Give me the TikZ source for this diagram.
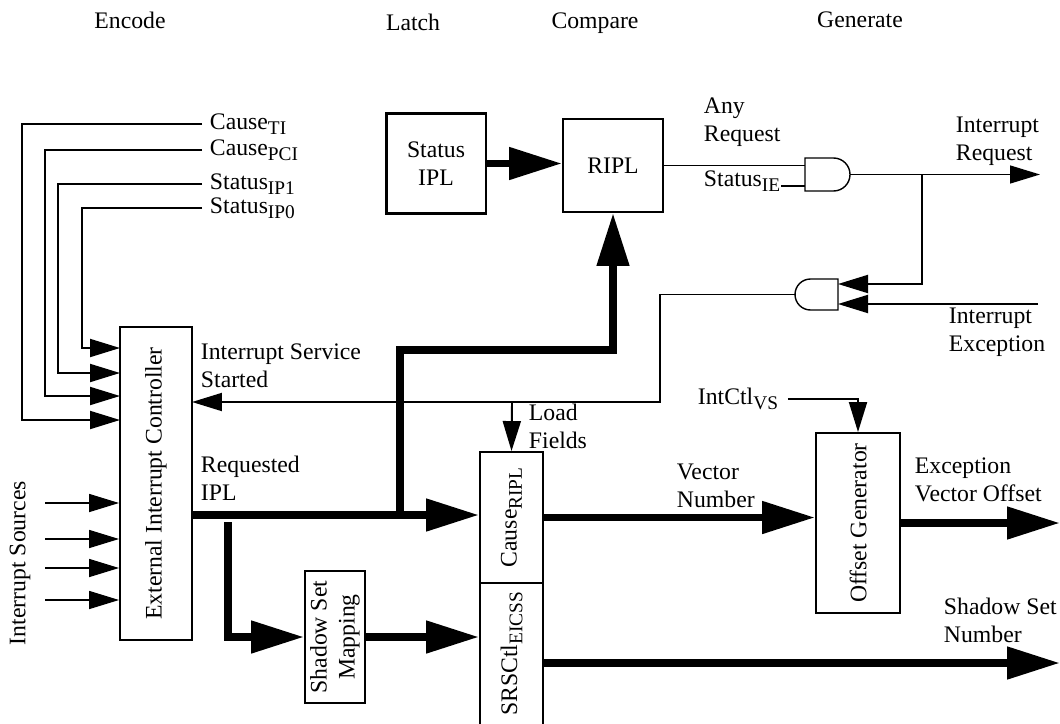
\documentclass[tikz,border=0pt]{standalone}
\usepackage{fontspec}
\setmainfont{Liberation Serif}
\usetikzlibrary{arrows.meta}

\begin{document}
\begin{tikzpicture}[x=0.02cm,y=-0.02cm,line width=1.1pt,>=Stealth,font=\fontsize{13.5}{16}\selectfont]
\tikzset{blk/.style={draw,inner sep=0pt,align=center},
  lbl/.style={inner sep=0pt,anchor=west,align=left},
  arr/.style={-{Triangle[length=0.6cm,width=0.36cm]}},
  bus/.style={line width=4.5pt,-{Triangle[length=1.06cm,width=0.62cm]}}}
\def\lo#1{\raisebox{-3pt}{\fontsize{11}{12}\selectfont#1}}
\useasboundingbox (0,0) rectangle (1060,723);
% ---- stage titles ----
\node (enc) at (130,20) {Encode};
\node (lat) at (413,22) {Latch};
\node (cmp) at (595,23) {Compare};
\node (gen) at (860,20) {Generate};
% ---- encode: controller, fields and sources ----
\node[blk,minimum width=1.44cm,minimum height=6.26cm] (eic) at (156,483.5) {\rotatebox{90}{External Interrupt Controller}};
\node[lbl,inner xsep=4pt] (cti) at (202,124) {Cause\lo{TI}};
\node[lbl,inner xsep=4pt] (cpci) at (202,150) {Cause\lo{PCI}};
\node[lbl,inner xsep=4pt] (sip1) at (202,184) {Status\lo{IP1}};
\node[lbl,inner xsep=4pt] (sip0) at (202,208) {Status\lo{IP0}};
\foreach \k/\y in {1/348,2/373,3/396,4/420} \coordinate (pin\k) at (120,\y);
\foreach \n/\d/\k in {cti/180/4,cpci/157/3,sip1/144/2,sip0/120/1}
  \draw[arr] (\n.west) -- ++(-\d,0) |- (pin\k);
\foreach \k/\y in {1/503,2/539,3/568,4/600}{
  \coordinate (src\k) at (45,\y);
  \draw[arr,line width=0.9pt] (src\k) -- (src\k -| eic.west);
}
\node[rotate=90] (isrc) at (20,563) {Interrupt Sources};
% ---- latch / compare ----
\node[blk,line width=1.7pt,minimum width=2cm,minimum height=2.02cm] (sipl) at (436,163.5) {Status\\IPL};
\node[blk,minimum width=2cm,minimum height=1.86cm] (ripl) at (613,165.5) {RIPL};
\draw[bus] (sipl.east) -- (sipl.east -| ripl.west);
% ---- generate: the two and gates ----
\draw[line width=0.8pt] (805,158) -- (833.5,158) arc[start angle=90,end angle=-90,radius=0.33cm] -- (805,191) -- cycle;
\coordinate (g1a) at (805,165.5);
\coordinate (g1b) at (805,186);
\coordinate (g1o) at (850,174.5);
\draw[line width=0.8pt] (838,279) -- (810.5,279) arc[start angle=90,end angle=270,radius=0.31cm] -- (838,310) -- cycle;
\coordinate (g2a) at (838,284);
\coordinate (g2b) at (838,304);
\coordinate (g2o) at (795,294.5);
\node[lbl] (anyreq) at (703,122) {Any\\Request};
\node[lbl] (sie) at (703,181) {Status\lo{IE}};
\draw (ripl.east) -- (g1a);
\draw[line width=0.8pt] (sie.east |- g1b) -- (g1b);
\coordinate (irq) at (1040,174.5);
\coordinate (br) at (922,174.5);
\coordinate (iexc) at (1038,304);
\draw[arr,line width=0.8pt] (g1o) -- (irq);
\draw[arr] (br) |- (g2a);
\draw[arr] (iexc) -- (g2b);
\node[lbl] (irqlbl) at (955,141) {Interrupt\\Request};
\node[lbl] (iexlbl) at (948,332) {Interrupt\\Exception};
% ---- service started / load fields ----
\coordinate (iss) at (192,402);
\coordinate (lf) at (512,402);
\draw[arr] (g2o) -- ++(-135,0) |- (iss);
\node[lbl] (isslbl) at (200,366) {Interrupt Service\\Started};
\node[blk,minimum width=1.26cm,minimum height=2.62cm] (cr) at (511.5,517.5) {\rotatebox{90}{Cause\lo{RIPL}}};
\node[blk,minimum width=1.26cm,minimum height=2.84cm] (srs) at (511.5,654) {\rotatebox{90}{SRSCtl\lo{EICSS}}};
\draw[arr] (lf) -- (cr.north);
\node[lbl] (lflbl) at (528,426) {Load\\Fields};
% ---- requested ipl buses ----
\node[blk,minimum width=1.2cm,minimum height=2.64cm] (ssm) at (335,637) {\rotatebox{90}{\begin{tabular}{@{}c@{}}Shadow Set\\Mapping\end{tabular}}};
\node[blk,minimum width=1.68cm,minimum height=3.6cm] (og) at (858,523) {\rotatebox{90}{Offset Generator}};
\node[lbl] (rqlbl) at (200,478) {Requested\\IPL};
\coordinate (rj) at (400,515);
\coordinate (sj) at (228,522);
\draw[bus] (eic.east |- rj) -- (rj -| cr.west);
\draw[bus] (rj) -- ++(0,-165) -| (ripl.south);
\draw[bus] (sj) |- (ssm.west);
\draw[bus] (ssm.east) -- (ssm.east -| srs.west);
\draw[bus] (cr.east) -- (cr.east -| og.west);
\node[lbl] (vnlbl) at (676,486) {Vector\\Number};
\node[lbl] (ivs) at (697,399) {IntCtl\lo{VS}};
\draw[arr] ([xshift=5pt]ivs.east) -| (og.north);
\coordinate (evo) at (1060,523);
\coordinate (ssn) at (1060,663);
\draw[bus] (og.east) -- (evo);
\draw[bus] (srs.east |- ssn) -- (ssn);
\node[lbl] (evolbl) at (914,480) {Exception\\Vector Offset};
\node[lbl] (ssnlbl) at (943,620) {Shadow Set\\Number};
\end{tikzpicture}
\end{document}
